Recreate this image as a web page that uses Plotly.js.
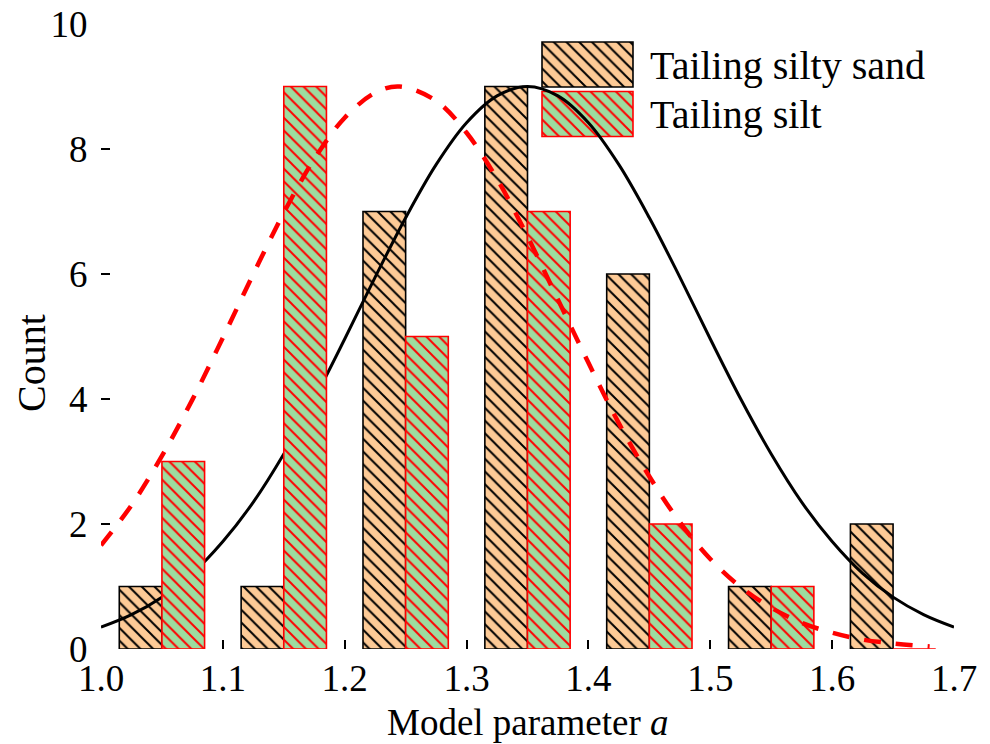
<!DOCTYPE html>
<html>
<head>
<meta charset="utf-8">
<script src="https://cdn.plot.ly/plotly-3.0.1.min.js"></script>
<style>html,body{margin:0;padding:0;background:#fff;}#chart{width:990px;height:744px;}</style>
</head>
<body>
<div id="chart"></div>
<script>
// ---- data ----
const binCenters = [1.05, 1.15, 1.25, 1.35, 1.45, 1.55, 1.65];
const sandCounts = [1, 1, 7, 9, 6, 1, 2];
const siltCounts = [3, 9, 5, 7, 2, 1, 0];

const sandFitX = [1.000, 1.025, 1.050, 1.075, 1.100, 1.125, 1.150, 1.175, 1.200, 1.225, 1.250, 1.275, 1.300, 1.325, 1.350,
                  1.375, 1.400, 1.425, 1.450, 1.475, 1.500, 1.525, 1.550, 1.575, 1.600, 1.625, 1.650, 1.675, 1.700];
const sandFitY = [0.35, 0.55, 0.83, 1.21, 1.72, 2.35, 3.12, 4.00, 4.96, 5.95, 6.90, 7.75, 8.42, 8.85, 9.00,
                  8.85, 8.42, 7.75, 6.90, 5.95, 4.96, 4.00, 3.12, 2.35, 1.72, 1.21, 0.83, 0.55, 0.35];

const siltFitX = [1.000, 1.025, 1.050, 1.075, 1.100, 1.125, 1.150, 1.175, 1.200, 1.225, 1.245, 1.275, 1.300, 1.325, 1.350,
                  1.375, 1.400, 1.425, 1.450, 1.475, 1.500, 1.525, 1.550, 1.575, 1.600, 1.625, 1.650, 1.680];
const siltFitY = [1.66, 2.30, 3.09, 3.99, 4.98, 6.00, 6.98, 7.84, 8.50, 8.90, 9.00, 8.77, 8.26, 7.52, 6.60,
                  5.59, 4.58, 3.61, 2.76, 2.03, 1.44, 0.99, 0.66, 0.42, 0.26, 0.15, 0.09, 0.04];

const seriesNames = ['Tailing silty sand', 'Tailing silt'];
const legendSlots = [1, 0];          // stacking slots of the legend samples
const legendSize = [1, 1];

const xTickVals = [1.0, 1.1, 1.2, 1.3, 1.4, 1.5, 1.6, 1.7];
const yTickVals = [0, 2, 4, 6, 8, 10];
const xTitle = 'Model parameter <i>a</i>';
const yTitle = 'Count';

// ---- styles ----
const FONT = 'Liberation Serif, Times New Roman, serif';
const sandFill = '#FDCA96';
const siltFill = '#9DDC9F';
const barW = 0.035;

const sandMarker = {
  color: sandFill,
  line: {color: '#000', width: 1.6},
  pattern: {shape: '\\', fgcolor: '#000', bgcolor: sandFill, size: 9, solidity: 0.22, fillmode: 'replace'}
};
const siltMarker = {
  color: siltFill,
  line: {color: '#ff0000', width: 1.6},
  pattern: {shape: '\\', fgcolor: '#ff0000', bgcolor: siltFill, size: 9, solidity: 0.22, fillmode: 'replace'}
};

const traces = [
  {type: 'bar', x: binCenters, y: sandCounts, name: seriesNames[0], width: barW, offset: -barW,
   marker: sandMarker, zorder: 1, hoverinfo: 'x+y'},
  {type: 'scatter', mode: 'lines', x: sandFitX, y: sandFitY, line: {color: '#000', width: 3, shape: 'spline'},
   zorder: 2, hoverinfo: 'skip'},
  {type: 'bar', x: binCenters, y: siltCounts, name: seriesNames[1], width: barW, offset: 0,
   marker: siltMarker, zorder: 3, hoverinfo: 'x+y'},
  {type: 'scatter', mode: 'lines', x: siltFitX, y: siltFitY,
   line: {color: '#ff0000', width: 4.5, dash: '17px,15px', shape: 'spline'}, zorder: 4, hoverinfo: 'skip'},
  // legend samples in an inset box (white background hides the curve beneath)
  {type: 'bar', orientation: 'h', xaxis: 'x2', yaxis: 'y2', x: [legendSize[0]], y: [legendSlots[0]],
   width: 0.91, marker: sandMarker, hoverinfo: 'skip'},
  {type: 'bar', orientation: 'h', xaxis: 'x2', yaxis: 'y2', x: [legendSize[1]], y: [legendSlots[1]],
   width: 0.91, marker: siltMarker, hoverinfo: 'skip'}
];

const W = 990, H = 744;
const M = {l: 101, r: 36, t: 24, b: 95};
const pw = W - M.l - M.r, ph = H - M.t - M.b;
const px2x = p => (p - M.l) / pw;
const px2y = p => (H - M.b - p) / ph;
const tf = {family: FONT, size: 40, color: '#000'};
const tickf = {family: FONT, size: 37, color: '#000'};
const xtf = {family: FONT, size: 37, color: '#000'};

const layout = {
  width: W, height: H,
  margin: M,
  paper_bgcolor: '#fff', plot_bgcolor: '#fff',
  showlegend: false,
  barmode: 'overlay',
  font: tf,
  xaxis: {
    range: [1.0, 1.7], tickvals: xTickVals, tickformat: '.1f',
    ticks: 'inside', ticklen: 9, tickwidth: 2, tickcolor: '#000',
    showline: true, linewidth: 2, linecolor: '#000', mirror: true,
    showgrid: false, zeroline: false, tickfont: tickf, ticklabelstandoff: -4
  },
  yaxis: {
    range: [0, 10], tickvals: yTickVals,
    ticks: 'inside', ticklen: 9, tickwidth: 2, tickcolor: '#000',
    showline: true, linewidth: 2, linecolor: '#000', mirror: true,
    showgrid: false, zeroline: false, tickfont: tickf, ticklabelstandoff: 4
  },
  xaxis2: {domain: [px2x(535), px2x(640)], anchor: 'y2', range: [-0.0769, 1.077], visible: false, fixedrange: true},
  yaxis2: {domain: [px2y(143), px2y(36)], anchor: 'x2', range: [-0.586, 1.576], visible: false, fixedrange: true},
  annotations: [
    {xref: 'paper', yref: 'paper', x: px2x(648), y: px2y(65), xanchor: 'left', yanchor: 'middle',
     text: seriesNames[0], showarrow: false, font: tf},
    {xref: 'paper', yref: 'paper', x: px2x(648), y: px2y(115), xanchor: 'left', yanchor: 'middle',
     text: seriesNames[1], showarrow: false, font: tf},
    {xref: 'paper', yref: 'paper', x: px2x(528), y: px2y(722), xanchor: 'center', yanchor: 'middle',
     text: xTitle, showarrow: false, font: xtf},
    {xref: 'paper', yref: 'paper', x: px2x(31), y: px2y(363), xanchor: 'center', yanchor: 'middle',
     text: yTitle, textangle: -90, showarrow: false, font: tf}
  ]
};

Plotly.newPlot('chart', traces, layout, {displayModeBar: false, staticPlot: true});
</script>
</body>
</html>
